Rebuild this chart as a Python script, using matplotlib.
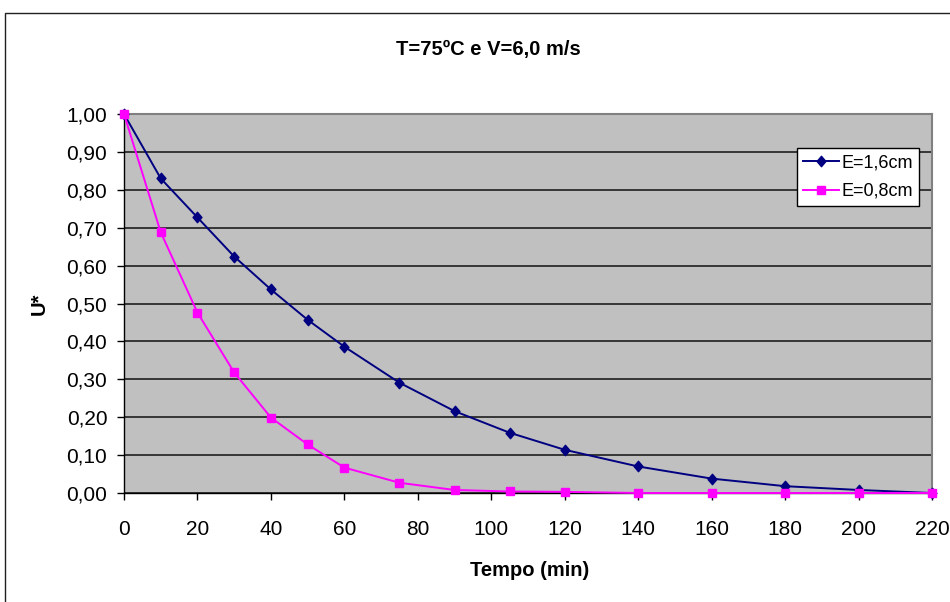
import matplotlib
matplotlib.use("Agg")
import matplotlib.pyplot as plt
from matplotlib.patches import Rectangle
from matplotlib.path import Path

tempo = [0, 10, 20, 30, 40, 50, 60, 75, 90, 105, 120, 140, 160, 180, 200, 220]
u_16 = [1.00, 0.83, 0.727, 0.624, 0.537, 0.457, 0.386, 0.291, 0.216, 0.159,
        0.114, 0.070, 0.038, 0.018, 0.008, 0.0]
u_08 = [1.00, 0.688, 0.476, 0.318, 0.199, 0.128, 0.067, 0.027, 0.008, 0.004,
        0.003, 0.0, 0.0, 0.0, 0.0, 0.0]
x_ticks = list(range(0, 221, 20))
y_ticks = [i / 10 for i in range(11)]
y_labels = [f"{v:.2f}".replace(".", ",") for v in y_ticks]

plt.rcParams["font.family"] = ["Liberation Sans", "DejaVu Sans"]

W, H = 950, 602
fig = plt.figure(figsize=(W / 100, H / 100), dpi=100)

# outer chart frame (runs off the right and bottom edges)
fig.patches.append(Rectangle((4.5 / W, -0.1), 1.2, 1 - 12.5 / H + 0.1,
                             transform=fig.transFigure, fill=False,
                             edgecolor="#202020", linewidth=1.0))

ax = fig.add_axes([124 / W, 1 - 493 / H, (932 - 124) / W, (493 - 114) / H])
ax.set_facecolor("#C0C0C0")
ax.set_xlim(0, 220)
ax.set_ylim(0, 1)

ax.set_yticks(y_ticks)
ax.set_yticklabels(y_labels)
ax.set_xticks(x_ticks)
ax.yaxis.grid(True, color="#101010", linewidth=1.1)
ax.set_axisbelow(True)
ax.tick_params(axis="both", direction="out", length=5, width=1, labelsize=15,
               color="black")
ax.tick_params(axis="x", pad=14.5)
ax.tick_params(axis="y", pad=7)

for s in ("left", "bottom"):
    ax.spines[s].set_color("black")
    ax.spines[s].set_linewidth(1.0)
for s in ("top", "right"):
    ax.spines[s].set_color("#808080")
    ax.spines[s].set_linewidth(1.5)

diamond = Path([(0, 1), (0.85, 0), (0, -1), (-0.85, 0), (0, 1)],
               [Path.MOVETO, Path.LINETO, Path.LINETO, Path.LINETO, Path.CLOSEPOLY])

ax.plot(tempo, u_16, color="#000080", linewidth=1.4, marker=diamond, markersize=7.5,
        markerfacecolor="#000080", markeredgecolor="#000080",
        label="E=1,6cm", clip_on=False, zorder=3)
ax.plot(tempo, u_08, color="#FF00FF", linewidth=1.4, marker="s", markersize=6,
        markerfacecolor="#FF00FF", markeredgecolor="#FF00FF",
        label="E=0,8cm", clip_on=False, zorder=3)

leg = ax.legend(loc="upper left", bbox_to_anchor=((797 - 124) / 808, (493 - 148) / 379),
                frameon=True, fancybox=False, framealpha=1, edgecolor="black",
                fontsize=13, handlelength=1.95, borderpad=0.35, labelspacing=0.64,
                handletextpad=0.15, borderaxespad=0)
leg.get_frame().set_linewidth(1.0)

fig.text(488 / W, 1 - 54.5 / H, "T=75ºC e V=6,0 m/s", ha="center", va="baseline",
         fontsize=14.5, fontweight="bold")
fig.text(530 / W, 1 - 575.5 / H, "Tempo (min)", ha="center", va="baseline",
         fontsize=14.5, fontweight="bold")
fig.text(39 / W, 1 - 304 / H, "U*", ha="center", va="center",
         fontsize=14.5, fontweight="bold", rotation=90)

fig.savefig("out.png", dpi=100, facecolor="white")
